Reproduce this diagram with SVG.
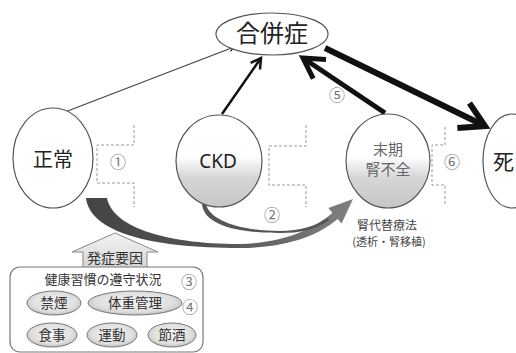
<svg xmlns="http://www.w3.org/2000/svg" width="516" height="353" viewBox="0 0 516 353">
<defs>
<style>
.node{stroke:#555;stroke-width:1.2}
.jp{font-family:"Noto Sans CJK JP","Noto Sans",sans-serif;text-anchor:middle}
.lat{font-family:"Noto Sans","Liberation Sans",sans-serif;text-anchor:middle}
.num{font-family:"Noto Sans CJK JP",sans-serif;font-size:16px;fill:#777;text-anchor:middle}
.brk{fill:none;stroke:#999;stroke-width:1;stroke-dasharray:3 2}
.pill{fill:url(#pillg);stroke:#777;stroke-width:1}
.ptxt{font-family:"Noto Sans CJK JP",sans-serif;font-size:13.5px;fill:#333;text-anchor:middle}
.arr{fill:none;stroke:#111;marker-end:url(#vhead)}
</style>
<marker id="vhead" viewBox="-6 -4 8 8" refX="0" refY="0" markerWidth="8" markerHeight="8" orient="auto" markerUnits="strokeWidth" overflow="visible">
<path d="M-4,-2.3 L0,0 L-4,2.3" fill="none" stroke="#111" stroke-width="1" stroke-linejoin="miter"/>
</marker>
<linearGradient id="shade" x1="0" y1="0" x2="0" y2="1">
<stop offset="0" stop-color="#fff"/>
<stop offset="0.45" stop-color="#fff"/>
<stop offset="0.68" stop-color="#d6d6d6"/>
<stop offset="1" stop-color="#c6c6c6"/>
</linearGradient>
<radialGradient id="pillg" cx="0.5" cy="0.45" r="0.6">
<stop offset="0" stop-color="#f6f6f6"/>
<stop offset="0.7" stop-color="#dedede"/>
<stop offset="1" stop-color="#b5b5b5"/>
</radialGradient>
<linearGradient id="bandg" x1="0" y1="0" x2="1" y2="0">
<stop offset="0" stop-color="#444"/>
<stop offset="0.5" stop-color="#555"/>
<stop offset="1" stop-color="#808080"/>
</linearGradient>
<linearGradient id="houseg" x1="0" y1="0" x2="0" y2="1">
<stop offset="0" stop-color="#f4f4f4"/>
<stop offset="1" stop-color="#d6d6d6"/>
</linearGradient>
</defs>
<rect width="516" height="353" fill="#fff"/>

<g id="brackets">
<path class="brk" d="M134,125 V145 H97 V183 H134 V207"/>
<path class="brk" d="M306,125 V146 H269 V185 H306 V207"/>
<path class="brk" d="M445,127 V145 H432 V185 H445 V205"/>
</g>

<g id="connectors">
<line class="arr" x1="65" y1="112" x2="234" y2="47" stroke-width="1.2" style="stroke:#444"/>
<line class="arr" x1="222" y1="114" x2="261" y2="58" stroke-width="2.5"/>
<line class="arr" x1="385" y1="113" x2="303" y2="58" stroke-width="5"/>
<line class="arr" x1="325" y1="48" x2="485" y2="126" stroke-width="6"/>
<path d="M86,198 C90,232 150,248 240,248 C285,248 318,236 337.6,219 L341.6,223.5 L353,199 L328.4,208 L332.4,213 C312,230 283,243 240,244 C160,244 112,225 107,198 Z" fill="url(#bandg)"/>
<path d="M202,204 L206,204 C210,222 245,231 280,231 C300,231 315,226 328,218 L329,220 C315,230 300,233 280,233 C240,233 204,226 202,204 Z" fill="#555"/>
</g>

<g id="n-gappeisho">
<ellipse class="node" cx="272" cy="34" rx="56" ry="21" fill="#fff"/>
<text class="jp" x="272" y="42" font-size="24" fill="#222">合併症</text>
</g>
<g id="n-seijo">
<ellipse class="node" cx="53" cy="158" rx="40" ry="50" fill="#fff"/>
<text class="jp" x="53" y="167" font-size="20" fill="#222">正常</text>
</g>
<g id="n-ckd">
<ellipse class="node" cx="219" cy="161" rx="43" ry="46" fill="url(#shade)"/>
<text class="lat" x="218" y="168" font-size="19" fill="#222">CKD</text>
</g>
<g id="n-esrd">
<ellipse class="node" cx="388" cy="161" rx="42" ry="47" fill="url(#shade)"/>
<text class="jp" x="388" y="155" font-size="15" fill="#666">末期</text>
<text class="jp" x="388" y="175" font-size="15" fill="#666">腎不全</text>
</g>
<g id="n-shi">
<ellipse class="node" cx="512" cy="161" rx="29" ry="47" fill="#fff"/>
<text class="jp" x="493" y="169" font-size="21" fill="#222" style="text-anchor:start">死</text>
</g>

<g id="labels">
<text class="num" x="118" y="168">①</text>
<text class="num" x="272" y="221">②</text>
<text class="num" x="337" y="101">⑤</text>
<text class="num" x="452" y="168">⑥</text>
<text class="jp" x="387" y="230" font-size="12" fill="#444">腎代替療法</text>
<text class="jp" x="389" y="246" font-size="11" fill="#444">(透析・腎移植)</text>
</g>

<g id="n-hassho">
<path d="M83,267 V252 H72 L115,233 L158,252 H147 V267" fill="url(#houseg)" stroke="#888" stroke-width="1"/>
<text class="jp" x="115" y="263" font-size="14" fill="#333">発症要因</text>
</g>

<g id="n-habits">
<rect x="10" y="267" width="193" height="85" rx="10" fill="#fff" stroke="#777" stroke-width="1.2"/>
<text class="jp" x="103" y="284" font-size="13" fill="#333">健康習慣の遵守状況</text>
<text class="num" x="189" y="288">③</text>
<text class="num" x="190" y="313">④</text>
<g id="p-kinen"><ellipse class="pill" cx="54" cy="303" rx="27" ry="12"/><text class="ptxt" x="54" y="308">禁煙</text></g>
<g id="p-taiju"><ellipse class="pill" cx="135" cy="303" rx="47" ry="12"/><text class="ptxt" x="135" y="308">体重管理</text></g>
<g id="p-shokuji"><ellipse class="pill" cx="52" cy="335" rx="25" ry="12"/><text class="ptxt" x="52" y="340">食事</text></g>
<g id="p-undo"><ellipse class="pill" cx="112" cy="335" rx="25" ry="12"/><text class="ptxt" x="112" y="340">運動</text></g>
<g id="p-sesshu"><ellipse class="pill" cx="172" cy="335" rx="24" ry="12"/><text class="ptxt" x="172" y="340">節酒</text></g>
</g>
</svg>
